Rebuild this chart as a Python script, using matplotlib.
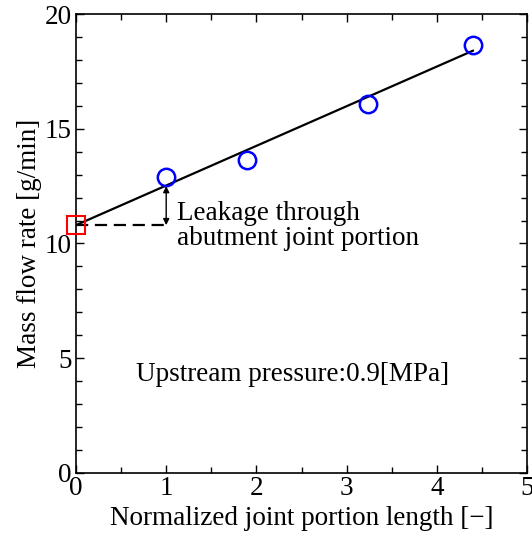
import matplotlib
matplotlib.use("Agg")
import matplotlib.pyplot as plt
from matplotlib.ticker import MultipleLocator

plt.rcParams['font.family'] = ['Liberation Serif', 'DejaVu Serif']
plt.rcParams['mathtext.fontset'] = 'stix'

# data
x_meas = [1.0, 1.9, 3.24, 4.4]
y_meas = [12.9, 13.65, 16.1, 18.65]
x_fit = [0.0, 4.4]
y_fit = [10.8, 18.4]
x_zero = [0.0]
y_zero = [10.8]
x_dash = [0.0, 1.0]
y_dash = [10.8, 10.8]
arrow_x = 1.0
arrow_y = [10.8, 12.5]

FS = 19.5

fig = plt.figure(figsize=(5.32, 5.33), dpi=100)
ax = fig.add_axes([76/532, 1-473/533, 451/532, 459/533])

ax.plot(x_fit, y_fit, color='black', lw=1.6, zorder=2)
ax.plot(x_dash, y_dash, color='black', lw=1.6, ls=(0, (5.5, 3)), zorder=2)
ax.plot(x_meas, y_meas, ls='none', marker='o', ms=12.5, mfc='none', mec='#0000ff', mew=1.8, zorder=3)
ax.plot(x_zero, y_zero, ls='none', marker='s', ms=12.5, mfc='none', mec='#ff0000', mew=1.5, zorder=3, clip_on=False)
ax.annotate('', xy=(arrow_x, arrow_y[1]), xytext=(arrow_x, arrow_y[0]),
            arrowprops=dict(arrowstyle='<|-|>', color='black', lw=1.0,
                            mutation_scale=9, shrinkA=0, shrinkB=0))

ax.text(1.12, 10.75, 'Leakage through\nabutment joint portion', fontsize=FS,
        ha='left', va='center', linespacing=0.98)
ax.text(2.40, 4.3, 'Upstream pressure:0.9[MPa]', fontsize=FS, ha='center', va='center')

ax.set_xlim(0, 5)
ax.set_ylim(0, 20)
ax.xaxis.set_major_locator(MultipleLocator(1))
ax.xaxis.set_minor_locator(MultipleLocator(0.5))
ax.yaxis.set_major_locator(MultipleLocator(5))
ax.yaxis.set_minor_locator(MultipleLocator(1))
ax.tick_params(which='both', direction='in', top=True, right=True, labelsize=FS, width=1.0)
ax.tick_params(which='major', length=6)
ax.tick_params(which='minor', length=4)
ax.tick_params(axis='x', which='major', pad=2)
ax.tick_params(axis='y', which='major', pad=3)
for s in ax.spines.values():
    s.set_linewidth(1.2)

ax.set_xlabel('Normalized joint portion length [\u2212]', fontsize=FS, labelpad=4)
ax.set_ylabel('Mass flow rate [g/min]', fontsize=FS, labelpad=2)

fig.savefig('out.png', dpi=100)
